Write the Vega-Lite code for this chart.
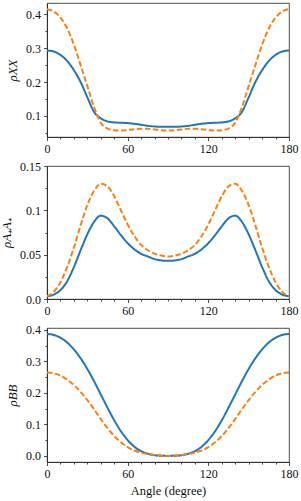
{
  "$schema": "https://vega.github.io/schema/vega-lite/v6.json",
  "padding": {"left": 0, "top": 2, "right": 12, "bottom": 0},
  "bounds": "flush",
  "spacing": 29,
  "datasets": {
    "d": [
      {"a": 0, "xb": 0.293, "xo": 0.415, "ab": 0.003, "ao": 0.003, "bb": 0.387, "bo": 0.265},
      {"a": 5, "xb": 0.290, "xo": 0.408, "ab": 0.005, "ao": 0.008, "bb": 0.384, "bo": 0.262},
      {"a": 10, "xb": 0.280, "xo": 0.390, "ab": 0.010, "ao": 0.019, "bb": 0.375, "bo": 0.255},
      {"a": 15, "xb": 0.262, "xo": 0.358, "ab": 0.020, "ao": 0.036, "bb": 0.360, "bo": 0.242},
      {"a": 20, "xb": 0.235, "xo": 0.310, "ab": 0.036, "ao": 0.058, "bb": 0.338, "bo": 0.225},
      {"a": 25, "xb": 0.200, "xo": 0.250, "ab": 0.055, "ao": 0.083, "bb": 0.310, "bo": 0.203},
      {"a": 30, "xb": 0.155, "xo": 0.188, "ab": 0.073, "ao": 0.106, "bb": 0.276, "bo": 0.177},
      {"a": 35, "xb": 0.112, "xo": 0.126, "ab": 0.087, "ao": 0.122, "bb": 0.237, "bo": 0.148},
      {"a": 40, "xb": 0.093, "xo": 0.080, "ab": 0.094, "ao": 0.130, "bb": 0.195, "bo": 0.117},
      {"a": 45, "xb": 0.084, "xo": 0.063, "ab": 0.091, "ao": 0.127, "bb": 0.153, "bo": 0.088},
      {"a": 50, "xb": 0.081, "xo": 0.058, "ab": 0.082, "ao": 0.116, "bb": 0.113, "bo": 0.063},
      {"a": 55, "xb": 0.080, "xo": 0.057, "ab": 0.072, "ao": 0.100, "bb": 0.078, "bo": 0.043},
      {"a": 60, "xb": 0.079, "xo": 0.059, "ab": 0.063, "ao": 0.084, "bb": 0.050, "bo": 0.028},
      {"a": 65, "xb": 0.077, "xo": 0.061, "ab": 0.056, "ao": 0.071, "bb": 0.029, "bo": 0.017},
      {"a": 70, "xb": 0.074, "xo": 0.062, "ab": 0.051, "ao": 0.061, "bb": 0.015, "bo": 0.010},
      {"a": 75, "xb": 0.071, "xo": 0.062, "ab": 0.048, "ao": 0.055, "bb": 0.007, "bo": 0.006},
      {"a": 80, "xb": 0.069, "xo": 0.060, "ab": 0.045, "ao": 0.051, "bb": 0.002, "bo": 0.003},
      {"a": 85, "xb": 0.068, "xo": 0.058, "ab": 0.0435, "ao": 0.049, "bb": 0.0005, "bo": 0.001},
      {"a": 90, "xb": 0.068, "xo": 0.057, "ab": 0.043, "ao": 0.048, "bb": 0.0, "bo": 0.0},
      {"a": 95, "xb": 0.068, "xo": 0.058, "ab": 0.0435, "ao": 0.049, "bb": 0.0005, "bo": 0.001},
      {"a": 100, "xb": 0.069, "xo": 0.060, "ab": 0.045, "ao": 0.051, "bb": 0.002, "bo": 0.003},
      {"a": 105, "xb": 0.071, "xo": 0.062, "ab": 0.048, "ao": 0.055, "bb": 0.007, "bo": 0.006},
      {"a": 110, "xb": 0.074, "xo": 0.062, "ab": 0.051, "ao": 0.061, "bb": 0.015, "bo": 0.010},
      {"a": 115, "xb": 0.077, "xo": 0.061, "ab": 0.056, "ao": 0.071, "bb": 0.029, "bo": 0.017},
      {"a": 120, "xb": 0.079, "xo": 0.059, "ab": 0.063, "ao": 0.084, "bb": 0.050, "bo": 0.028},
      {"a": 125, "xb": 0.080, "xo": 0.057, "ab": 0.072, "ao": 0.100, "bb": 0.078, "bo": 0.043},
      {"a": 130, "xb": 0.081, "xo": 0.058, "ab": 0.082, "ao": 0.116, "bb": 0.113, "bo": 0.063},
      {"a": 135, "xb": 0.084, "xo": 0.063, "ab": 0.091, "ao": 0.127, "bb": 0.153, "bo": 0.088},
      {"a": 140, "xb": 0.093, "xo": 0.080, "ab": 0.094, "ao": 0.130, "bb": 0.195, "bo": 0.117},
      {"a": 145, "xb": 0.112, "xo": 0.126, "ab": 0.087, "ao": 0.122, "bb": 0.237, "bo": 0.148},
      {"a": 150, "xb": 0.155, "xo": 0.188, "ab": 0.073, "ao": 0.106, "bb": 0.276, "bo": 0.177},
      {"a": 155, "xb": 0.200, "xo": 0.250, "ab": 0.055, "ao": 0.083, "bb": 0.310, "bo": 0.203},
      {"a": 160, "xb": 0.235, "xo": 0.310, "ab": 0.036, "ao": 0.058, "bb": 0.338, "bo": 0.225},
      {"a": 165, "xb": 0.262, "xo": 0.358, "ab": 0.020, "ao": 0.036, "bb": 0.360, "bo": 0.242},
      {"a": 170, "xb": 0.280, "xo": 0.390, "ab": 0.010, "ao": 0.019, "bb": 0.375, "bo": 0.255},
      {"a": 175, "xb": 0.290, "xo": 0.408, "ab": 0.005, "ao": 0.008, "bb": 0.384, "bo": 0.262},
      {"a": 180, "xb": 0.293, "xo": 0.415, "ab": 0.003, "ao": 0.003, "bb": 0.387, "bo": 0.265}
    ]
  },
  "vconcat": [
    {
      "width": 242, "height": 134,
      "data": {"name": "d"},
      "transform": [{"fold": ["xb", "xo"], "as": ["k", "v"]}],
      "mark": {"type": "line", "strokeWidth": 2, "interpolate": "monotone", "clip": true},
      "encoding": {
        "x": {"field": "a", "type": "quantitative", "scale": {"domain": [0, 180], "nice": false, "zero": false},
          "axis": {"title": null, "values": [0,10,20,30,40,50,60,70,80,90,100,110,120,130,140,150,160,170,180],
            "labelExpr": "datum.value % 60 == 0 ? datum.label : ''",
            "tickSize": {"condition": {"test": "datum.value % 60 == 0", "value": 3.5}, "value": 2}}},
        "y": {"field": "v", "type": "quantitative", "scale": {"domain": [0.038, 0.433], "nice": false, "zero": false},
          "axis": {"title": "ρXX", "values": [0.05,0.1,0.15,0.2,0.25,0.3,0.35,0.4],
            "labelExpr": "slice(format(datum.value, '.2f'), -1) == '0' ? format(datum.value, '.1f') : ''",
            "tickSize": {"condition": {"test": "slice(format(datum.value, '.2f'), -1) == '0'", "value": 3.5}, "value": 2}}},
        "color": {"field": "k", "type": "nominal", "scale": {"domain": ["xb", "xo"], "range": ["#1f77b4", "#ff7f0e"]}, "legend": null},
        "strokeDash": {"field": "k", "type": "nominal", "scale": {"domain": ["xb", "xo"], "range": [[1, 0], [5.5, 2.5]]}, "legend": null}
      }
    },
    {
      "width": 242, "height": 133,
      "data": {"name": "d"},
      "transform": [{"fold": ["ab", "ao"], "as": ["k", "v"]}],
      "mark": {"type": "line", "strokeWidth": 2, "interpolate": "monotone", "clip": true},
      "encoding": {
        "x": {"field": "a", "type": "quantitative", "scale": {"domain": [0, 180], "nice": false, "zero": false},
          "axis": {"title": null, "values": [0,10,20,30,40,50,60,70,80,90,100,110,120,130,140,150,160,170,180],
            "labelExpr": "datum.value % 60 == 0 ? datum.label : ''",
            "tickSize": {"condition": {"test": "datum.value % 60 == 0", "value": 3.5}, "value": 2}}},
        "y": {"field": "v", "type": "quantitative", "scale": {"domain": [0, 0.15], "nice": false, "zero": false},
          "axis": {"title": "ρA₊A₊", "values": [0,0.025,0.05,0.075,0.1,0.125,0.15],
            "labelExpr": "datum.value < 0.001 ? '0.0' : abs(datum.value-0.05) < 0.001 ? '0.05' : abs(datum.value-0.1) < 0.001 ? '0.1' : abs(datum.value-0.15) < 0.001 ? '0.15' : ''",
            "tickSize": {"condition": {"test": "slice(format(datum.value, '.3f'), -1) == '0'", "value": 3.5}, "value": 2}}},
        "color": {"field": "k", "type": "nominal", "scale": {"domain": ["ab", "ao"], "range": ["#1f77b4", "#ff7f0e"]}, "legend": null},
        "strokeDash": {"field": "k", "type": "nominal", "scale": {"domain": ["ab", "ao"], "range": [[1, 0], [5.5, 2.5]]}, "legend": null}
      }
    },
    {
      "width": 242, "height": 134,
      "data": {"name": "d"},
      "transform": [{"fold": ["bb", "bo"], "as": ["k", "v"]}],
      "mark": {"type": "line", "strokeWidth": 2, "interpolate": "monotone", "clip": true},
      "encoding": {
        "x": {"field": "a", "type": "quantitative", "scale": {"domain": [0, 180], "nice": false, "zero": false},
          "axis": {"title": "Angle (degree)", "values": [0,10,20,30,40,50,60,70,80,90,100,110,120,130,140,150,160,170,180],
            "labelExpr": "datum.value % 60 == 0 ? datum.label : ''",
            "tickSize": {"condition": {"test": "datum.value % 60 == 0", "value": 3.5}, "value": 2}}},
        "y": {"field": "v", "type": "quantitative", "scale": {"domain": [-0.0194, 0.406], "nice": false, "zero": false},
          "axis": {"title": "ρBB", "values": [0,0.05,0.1,0.15,0.2,0.25,0.3,0.35,0.4],
            "labelExpr": "slice(format(datum.value, '.2f'), -1) == '0' ? format(datum.value, '.1f') : ''",
            "tickSize": {"condition": {"test": "slice(format(datum.value, '.2f'), -1) == '0'", "value": 3.5}, "value": 2}}},
        "color": {"field": "k", "type": "nominal", "scale": {"domain": ["bb", "bo"], "range": ["#1f77b4", "#ff7f0e"]}, "legend": null},
        "strokeDash": {"field": "k", "type": "nominal", "scale": {"domain": ["bb", "bo"], "range": [[1, 0], [5.5, 2.5]]}, "legend": null}
      }
    }
  ],
  "config": {
    "view": {"stroke": "#222", "strokeWidth": 0.8},
    "axis": {
      "grid": false,
      "domainColor": "#222", "domainWidth": 0.8,
      "tickColor": "#222", "tickWidth": 0.8,
      "labelFont": "Liberation Serif", "labelFontSize": 12, "labelColor": "#111",
      "labelFlush": false, "labelOverlap": false, "labelPadding": 3,
      "titleFont": "Liberation Serif", "titleFontSize": 13, "titleFontWeight": "normal", "titleColor": "#111"
    },
    "axisY": {"titleFontStyle": "italic", "titlePadding": 6},
    "axisX": {"titlePadding": 5, "titleFontSize": 12.5}
  }
}
